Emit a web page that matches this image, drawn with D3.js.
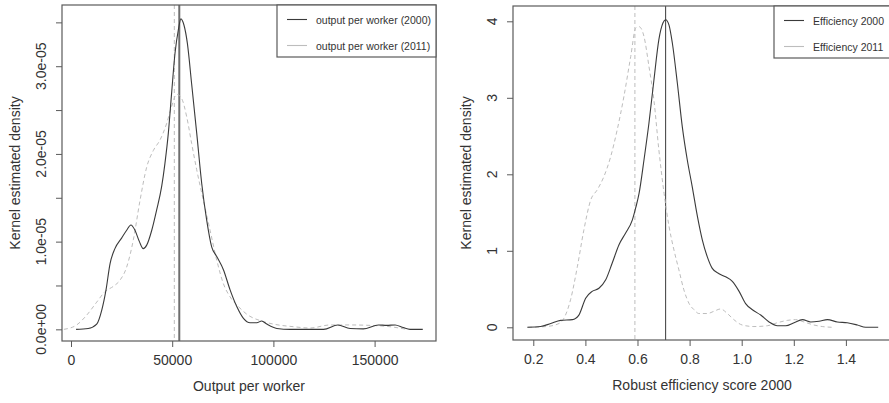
<!DOCTYPE html>
<html>
<head>
<meta charset="utf-8">
<script src="https://cdn.jsdelivr.net/npm/d3@7"></script>
<style>
	body { margin: 0; background: #fff; }
	svg { display: block; font-family: Arial, "Liberation Sans", sans-serif; }
	.tick-label, .axis-title, .legend-text { fill: #333; }
</style>
</head>
<body>
<div id="chart"></div>
<script>
// ---- data ----
// left panel: output per worker, kernel density [x, density]
const output2000 = [
	[2500, 0], [8500, 0.01e-5], [12700, 0.06e-5], [15200, 0.22e-5], [17300, 0.45e-5],
	[19300, 0.75e-5], [21700, 0.92e-5], [25000, 1.04e-5], [27500, 1.13e-5], [29600, 1.19e-5],
	[31600, 1.13e-5], [33800, 1.0e-5], [35700, 0.92e-5], [37400, 0.96e-5], [39900, 1.13e-5],
	[42300, 1.36e-5], [44800, 1.63e-5], [46400, 1.89e-5], [48100, 2.24e-5], [49700, 2.69e-5],
	[51400, 3.15e-5], [53000, 3.41e-5], [54300, 3.54e-5], [55800, 3.47e-5], [57500, 3.26e-5],
	[59600, 2.80e-5], [62100, 2.24e-5], [64600, 1.66e-5], [67000, 1.25e-5], [69500, 0.94e-5],
	[72000, 0.83e-5], [75300, 0.68e-5], [78600, 0.45e-5], [81900, 0.26e-5], [85200, 0.125e-5],
	[88500, 0.075e-5], [91800, 0.075e-5], [94200, 0.095e-5], [96700, 0.06e-5], [101700, 0.01e-5],
	[108300, 0], [124800, 0], [131800, 0.05e-5], [137900, 0.01e-5], [144400, 0.005e-5],
	[151900, 0.05e-5], [156000, 0.045e-5], [160100, 0.05e-5], [164200, 0.02e-5], [167500, 0],
	[173800, 0]
];
const output2011 = [
	[-3500, 0], [2800, 0.05e-5], [7700, 0.16e-5], [12700, 0.31e-5], [16800, 0.43e-5],
	[20900, 0.49e-5], [24200, 0.56e-5], [27500, 0.71e-5], [30800, 1.02e-5], [34100, 1.47e-5],
	[37400, 1.85e-5], [40700, 2.04e-5], [44000, 2.16e-5], [47300, 2.35e-5], [49700, 2.54e-5],
	[52200, 2.68e-5], [54700, 2.63e-5], [57200, 2.42e-5], [59600, 2.12e-5], [62100, 1.82e-5],
	[65400, 1.47e-5], [68700, 1.13e-5], [72000, 0.79e-5], [75300, 0.52e-5], [78600, 0.37e-5],
	[82700, 0.26e-5], [87600, 0.16e-5], [93400, 0.10e-5], [100000, 0.06e-5], [109900, 0.03e-5],
	[118100, 0.015e-5], [128000, 0.05e-5], [137900, 0.05e-5], [147800, 0.045e-5], [157600, 0.03e-5],
	[165900, 0]
];
const outputMean2000 = 53500;
const outputMean2011 = 51050;
const outputXTicks = [0, 50000, 100000, 150000];
const outputYTicks = [0, 0.5e-5, 1e-5, 1.5e-5, 2e-5, 2.5e-5, 3e-5, 3.5e-5];
const outputYLabels = ["0.0e+00", "1.0e-05", "2.0e-05", "3.0e-05"];   // only every second tick is labelled
const outputLegend = ["output per worker (2000)", "output per worker (2011)"];

// right panel: robust efficiency score
const eff2000 = [
	[0.177, 0], [0.228, 0.01], [0.267, 0.05], [0.305, 0.09], [0.35, 0.10], [0.375, 0.16],
	[0.401, 0.38], [0.426, 0.47], [0.452, 0.51], [0.478, 0.62], [0.503, 0.84], [0.529, 1.08],
	[0.554, 1.23], [0.580, 1.40], [0.593, 1.56], [0.606, 1.75], [0.625, 2.19], [0.644, 2.67],
	[0.663, 3.23], [0.682, 3.76], [0.698, 3.98], [0.708, 4.02], [0.721, 3.95], [0.734, 3.71],
	[0.753, 3.19], [0.772, 2.62], [0.791, 2.19], [0.810, 1.84], [0.830, 1.45], [0.849, 1.14],
	[0.868, 0.92], [0.887, 0.77], [0.913, 0.70], [0.938, 0.66], [0.964, 0.60], [0.990, 0.47],
	[1.015, 0.31], [1.041, 0.23], [1.073, 0.16], [1.105, 0.07], [1.137, 0.02], [1.169, 0.02],
	[1.201, 0.06], [1.233, 0.10], [1.265, 0.07], [1.297, 0.08], [1.329, 0.10], [1.367, 0.07],
	[1.405, 0.06], [1.444, 0.03], [1.476, 0], [1.524, 0]
];
const eff2011 = [
	[0.18, 0], [0.25, 0.01], [0.299, 0.05], [0.318, 0.12], [0.343, 0.36], [0.369, 0.79],
	[0.394, 1.27], [0.420, 1.66], [0.446, 1.80], [0.471, 1.97], [0.497, 2.23], [0.522, 2.58],
	[0.548, 3.02], [0.574, 3.54], [0.593, 3.91], [0.606, 3.93], [0.625, 3.80], [0.644, 3.41],
	[0.663, 2.97], [0.682, 2.32], [0.702, 1.75], [0.721, 1.32], [0.740, 1.01], [0.759, 0.75],
	[0.778, 0.49], [0.798, 0.31], [0.817, 0.23], [0.836, 0.18], [0.868, 0.18], [0.894, 0.21],
	[0.919, 0.24], [0.945, 0.18], [0.970, 0.10], [1.002, 0.03], [1.047, 0.01], [1.098, 0.02],
	[1.137, 0.06], [1.175, 0.09], [1.207, 0.10], [1.239, 0.07], [1.277, 0.03], [1.309, 0.01],
	[1.348, 0]
];
const effMean2000 = 0.708;
const effMean2011 = 0.590;
const effXTicks = [0.2, 0.4, 0.6, 0.8, 1.0, 1.2, 1.4];
const effYTicks = [0, 1, 2, 3, 4];
const effLegend = ["Efficiency 2000", "Efficiency 2011"];

const DARK = '#3a3a3a',
	LIGHT = '#bdbdbd',
	FRAME = '#5a5a5a';

const svg = d3.select('#chart').append('svg')
	.attr('width', 889)
	.attr('height', 403);

function drawPanel(opt){
	const g = svg.append('g');
	const x = d3.scaleLinear().domain(opt.xDomain).range([opt.left, opt.right]);
	const y = d3.scaleLinear().domain(opt.yDomain).range([opt.bottom, opt.top]);

	const line = d3.line()
		.x(d => x(d[0]))
		.y(d => y(d[1]))
		.curve(d3.curveMonotoneX);

	// vertical mean lines
	g.append('line')
		.attr('x1', x(opt.mean2011)).attr('x2', x(opt.mean2011))
		.attr('y1', opt.top).attr('y2', opt.bottom)
		.style('stroke', LIGHT).style('stroke-dasharray', '4,3').style('stroke-width', 1);
	g.append('line')
		.attr('x1', x(opt.mean2000)).attr('x2', x(opt.mean2000))
		.attr('y1', opt.top).attr('y2', opt.bottom)
		.style('stroke', opt.meanColor).style('stroke-width', opt.meanWidth);

	// density curves
	g.append('path').datum(opt.d2011)
		.attr('d', line)
		.style('fill', 'none').style('stroke', LIGHT)
		.style('stroke-dasharray', '4,3').style('stroke-width', 1);
	g.append('path').datum(opt.d2000)
		.attr('d', line)
		.style('fill', 'none').style('stroke', DARK).style('stroke-width', 1.1);

	// frame
	g.append('rect')
		.attr('x', opt.left).attr('y', opt.top)
		.attr('width', opt.right - opt.left).attr('height', opt.bottom - opt.top)
		.style('fill', 'none').style('stroke', FRAME).style('stroke-width', 1.2);

	// x axis
	const xAxis = d3.axisBottom(x)
		.tickValues(opt.xTicks)
		.tickSize(6)
		.tickPadding(8)
		.tickFormat(opt.xFormat);
	const xg = g.append('g')
		.attr('transform', `translate(0,${opt.bottom})`)
		.call(xAxis);
	xg.select('.domain').remove();
	xg.selectAll('line').style('stroke', FRAME);
	xg.selectAll('text')
		.classed('tick-label', true)
		.attr('font-size', 14).attr('font-family', null)
		.attr('fill', '#333');

	// y axis
	const yAxis = d3.axisLeft(y)
		.tickValues(opt.yTicks)
		.tickSize(6)
		.tickFormat(() => '');
	const yg = g.append('g')
		.attr('transform', `translate(${opt.left},0)`)
		.call(yAxis);
	yg.select('.domain').remove();
	yg.selectAll('line').style('stroke', FRAME);

	// rotated y tick labels
	opt.yLabelTicks.forEach((v, i) => {
		g.append('text')
			.classed('tick-label', true)
			.attr('transform', `translate(${opt.left - 16},${y(v)}) rotate(-90)`)
			.attr('text-anchor', 'middle')
			.attr('font-size', 14)
			.text(opt.yLabels[i]);
	});

	// titles
	g.append('text')
		.classed('axis-title', true)
		.attr('x', (opt.left + opt.titleRight) / 2)
		.attr('y', opt.bottom + 50)
		.attr('text-anchor', 'middle')
		.attr('font-size', 14)
		.text(opt.xTitle);
	g.append('text')
		.classed('axis-title', true)
		.attr('transform', `translate(${opt.left - 42},${(opt.top + opt.bottom) / 2}) rotate(-90)`)
		.attr('text-anchor', 'middle')
		.attr('font-size', 14)
		.text('Kernel estimated density');

	// legend
	const lg = g.append('g');
	lg.append('rect')
		.attr('x', opt.legendX).attr('y', opt.top)
		.attr('width', opt.right - opt.legendX).attr('height', 52)
		.style('fill', '#fff').style('stroke', FRAME).style('stroke-width', 1.2);
	[DARK, LIGHT].forEach((c, i) => {
		const ly = opt.top + 14.5 + i * 26;
		lg.append('line')
			.attr('x1', opt.legendX + 10).attr('x2', opt.legendX + 30)
			.attr('y1', ly).attr('y2', ly)
			.style('stroke', c).style('stroke-width', 1.1);
		lg.append('text')
			.classed('legend-text', true)
			.attr('x', opt.legendX + 39)
			.attr('y', ly + 4)
			.attr('font-size', 10.5)
			.text(opt.legend[i]);
	});
}

drawPanel({
	left: 62, right: 436, top: 5, bottom: 341, titleRight: 436,
	xDomain: [-4447, 180336], yDomain: [-0.133e-5, 3.698e-5],
	d2000: output2000, d2011: output2011,
	mean2000: outputMean2000, mean2011: outputMean2011,
	meanColor: '#6e6e6e', meanWidth: 2,
	xTicks: outputXTicks, xFormat: d3.format('d'),
	yTicks: outputYTicks,
	yLabelTicks: [0, 1e-5, 2e-5, 3e-5], yLabels: outputYLabels,
	xTitle: 'Output per worker',
	legend: outputLegend, legendX: 277
});

drawPanel({
	left: 513, right: 891, top: 6, bottom: 340, titleRight: 891,
	xDomain: [0.1221, 1.5731], yDomain: [-0.166, 4.2],
	d2000: eff2000, d2011: eff2011,
	mean2000: effMean2000, mean2011: effMean2011,
	meanColor: '#3a3a3a', meanWidth: 1,
	xTicks: effXTicks, xFormat: d3.format('.1f'),
	yTicks: effYTicks,
	yLabelTicks: effYTicks, yLabels: effYTicks.map(String),
	xTitle: 'Robust efficiency score 2000',
	legend: effLegend, legendX: 774
});
</script>
</body>
</html>
